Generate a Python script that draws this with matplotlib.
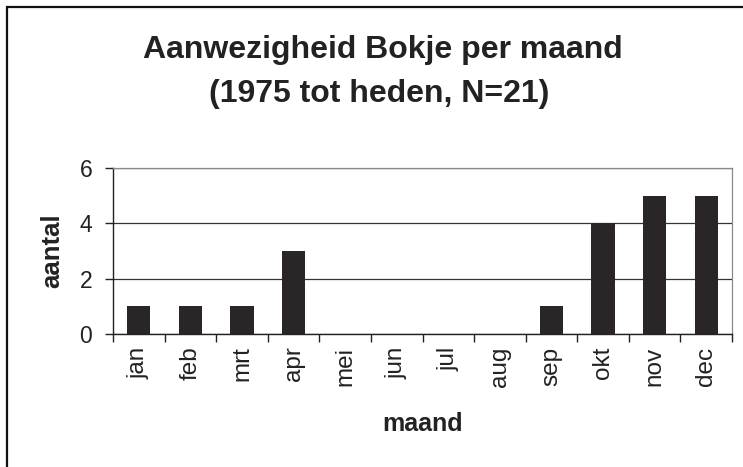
import matplotlib
matplotlib.use("Agg")
import matplotlib.pyplot as plt
import numpy as np
from matplotlib.patches import Rectangle

# data
months = ["jan", "feb", "mrt", "apr", "mei", "jun", "jul", "aug", "sep", "okt", "nov", "dec"]
counts = [1, 1, 1, 3, 0, 0, 0, 0, 1, 4, 5, 5]
y_ticks = [0, 2, 4, 6]

plt.rcParams["font.family"] = ["Liberation Sans", "DejaVu Sans"]
txt = "#222222"

fig = plt.figure(figsize=(7.43, 4.67), dpi=100)
ax = fig.add_axes([113 / 743, 1 - 334 / 467, (732 - 113) / 743, (334 - 168) / 467])

x = np.arange(len(months)) + 0.5
ax.bar(x, counts, width=0.45, color="#2a2627", zorder=3)

ax.set_xlim(0, len(months))
ax.set_ylim(0, 6)

# category boundaries get the tick marks, centres get the labels
ax.set_xticks(np.arange(len(months) + 1))
ax.set_xticklabels([])
ax.set_xticks(x, minor=True)
ax.set_xticklabels(months, minor=True, rotation=90, fontsize=17.5, color=txt)
ax.tick_params(axis="x", which="major", direction="out", length=6, width=1, color="#222222")
ax.tick_params(axis="x", which="minor", length=0, pad=9)

ax.set_yticks(y_ticks)
ax.set_yticklabels([str(v) for v in y_ticks], fontsize=16.5, color=txt)
ax.tick_params(axis="y", direction="out", length=6, width=1, color="#222222", pad=9)

ax.yaxis.grid(True, color="#333333", linewidth=0.9, zorder=1)
ax.set_axisbelow(True)

for s in ["left", "bottom"]:
    ax.spines[s].set_color("#222222")
    ax.spines[s].set_linewidth(1)
for s in ["top", "right"]:
    ax.spines[s].set_color("#8a8a8a")
    ax.spines[s].set_linewidth(0.9)

ax.set_xlabel("maand", fontsize=18, fontweight="bold", color=txt)
ax.xaxis.set_label_coords(0.5, -0.47)
fig.text(52 / 743, 1 - 251 / 467, "aantal", rotation=90, ha="center", va="center",
         fontsize=18.5, fontweight="bold", color=txt)

# title, two lines
fig.text(383 / 743, 1 - 58 / 467, "Aanwezigheid Bokje per maand", ha="center",
         va="baseline", fontsize=23, fontweight="bold", color=txt)
fig.text(379 / 743, 1 - 102 / 467, "(1975 tot heden, N=21)", ha="center",
         va="baseline", fontsize=23, fontweight="bold", color=txt)

# chart frame, cut off at right and bottom like the scan
fig.patches.append(Rectangle((7 / 743, -0.1), 1.1, 1.1 - 7 / 467,
                             transform=fig.transFigure, fill=False,
                             edgecolor="#111111", linewidth=1.6))

plt.savefig("out.png", dpi=100)
